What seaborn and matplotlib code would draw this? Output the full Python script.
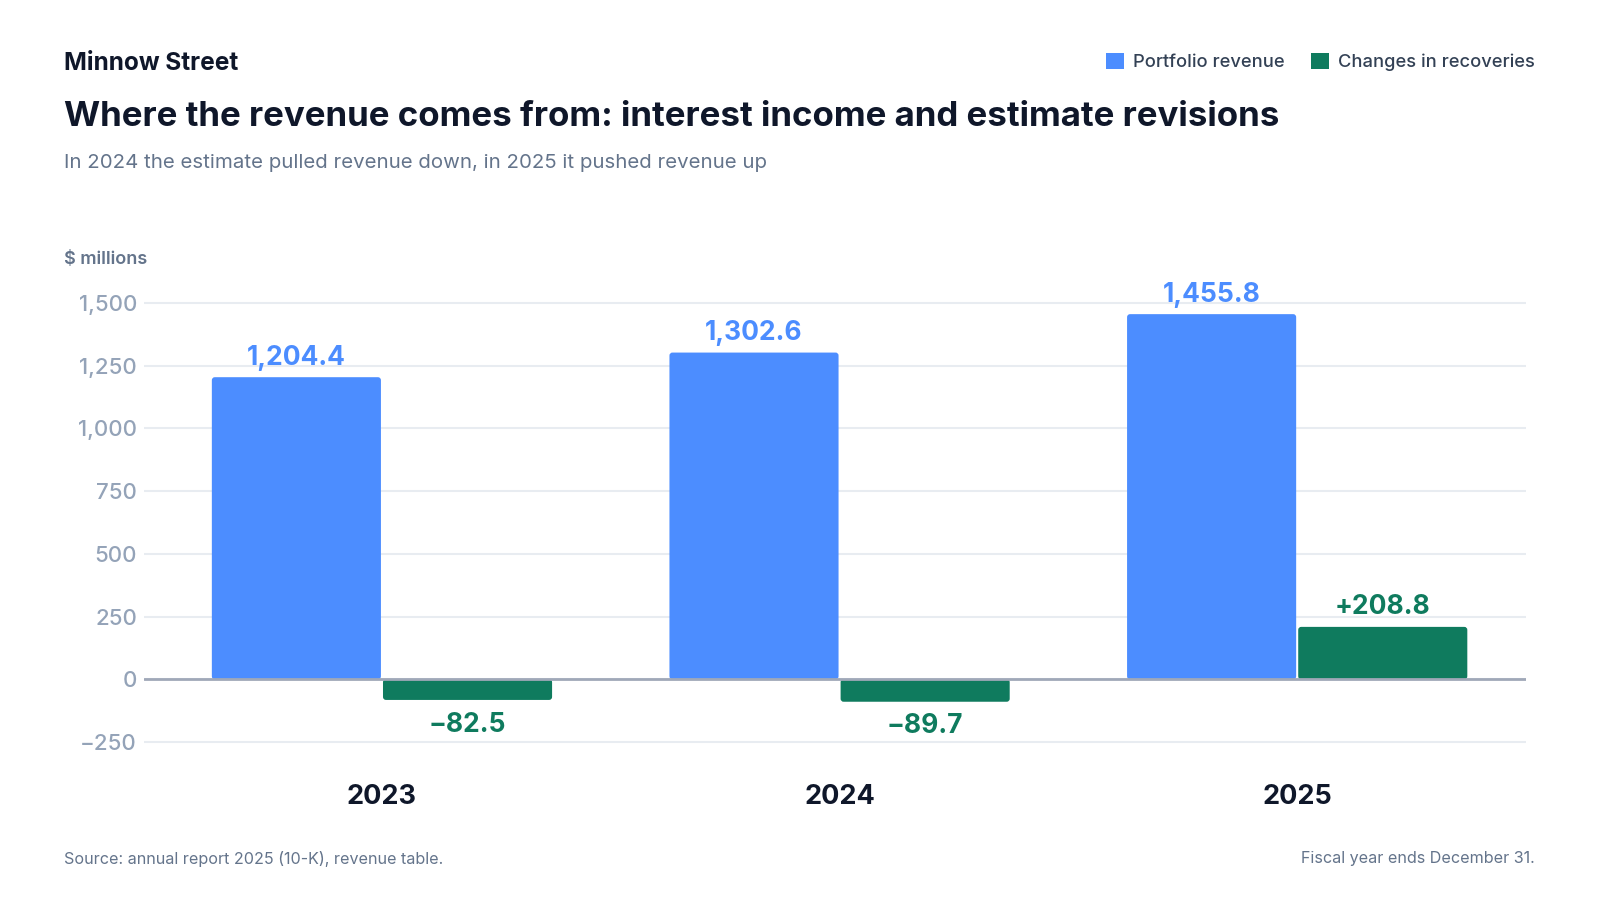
import matplotlib
matplotlib.use("Agg")
import matplotlib.pyplot as plt
import seaborn as sns
import pandas as pd
from matplotlib.patches import Patch, FancyBboxPatch
from matplotlib.ticker import FuncFormatter

years = ["2023", "2024", "2025"]
portfolio_revenue = [1204.4, 1302.6, 1455.8]
changes_in_recoveries = [-82.5, -89.7, 208.8]
series_names = ["Portfolio revenue", "Changes in recoveries"]
y_ticks = [-250, 0, 250, 500, 750, 1000, 1250, 1500]

BLUE = "#4C8DFF"
GREEN = "#0F7B5E"
DARK = "#0F172A"
SLATE = "#64748B"
TICK = "#94A3B8"
GRID = "#E8ECF1"

df = pd.DataFrame({
    "year": years * 2,
    "series": [series_names[0]] * 3 + [series_names[1]] * 3,
    "value": portfolio_revenue + changes_in_recoveries,
})

sns.set_theme(style="white")
plt.rcParams["font.family"] = ["Inter", "DejaVu Sans"]

W, H = 1600, 900
fig = plt.figure(figsize=(16, 9), dpi=100)
ax_bottom, ax_top = 759.5, 283
ax = fig.add_axes([144 / W, 1 - ax_bottom / H, (1526 - 144) / W, (ax_bottom - ax_top) / H])

sns.barplot(data=df, x="year", y="value", hue="series", order=years,
            hue_order=series_names, palette=[BLUE, GREEN], width=0.748,
            gap=0.012, ax=ax, legend=False, saturation=1, linewidth=0, zorder=3)

xlim = (-0.52, 2.5)
ylim = (-320, 1580)
ax.set_xlim(*xlim)
ax.set_ylim(*ylim)
ax.set_yticks(y_ticks)
ax.yaxis.set_major_formatter(FuncFormatter(lambda v, p: f"{int(v):,}".replace("-", "\u2212")))
ax.grid(axis="y", color=GRID, linewidth=1.5, zorder=0)
ax.grid(axis="x", visible=False)
ax.axhline(0, color="#A0A8B8", linewidth=2, zorder=4)
for s in ax.spines.values():
    s.set_visible(False)
ax.tick_params(axis="y", length=0, pad=5, labelsize=16, labelcolor=TICK)
for t in ax.get_yticklabels():
    t.set_fontweight("medium")
ax.tick_params(axis="x", length=0, pad=18, labelsize=19.5, labelcolor=DARK)
for t in ax.get_xticklabels():
    t.set_fontweight("bold")
ax.set_xlabel("")
ax.set_ylabel("")

# rounded bar corners (replace each seaborn bar with a rounded copy of its geometry)
px_per_x = (1526 - 144) / (xlim[1] - xlim[0])
px_per_y = (ax_bottom - ax_top) / (ylim[1] - ylim[0])
radius_px = 3
for container in ax.containers:
    for bar in container:
        x0, y0 = bar.get_x(), bar.get_y()
        w, h = bar.get_width(), bar.get_height()
        rb = FancyBboxPatch((x0, min(y0, y0 + h)), w, abs(h),
                            boxstyle=f"round,pad=0,rounding_size={radius_px / px_per_x}",
                            mutation_aspect=px_per_x / px_per_y,
                            facecolor=bar.get_facecolor(), edgecolor="none", zorder=3)
        bar.set_visible(False)
        ax.add_patch(rb)

# value labels
for container, color, sign in zip(ax.containers, [BLUE, GREEN], [False, True]):
    for bar, v in zip(container, container.datavalues):
        x = bar.get_x() + bar.get_width() / 2
        if sign:
            txt = (f"+{v:,.1f}" if v > 0 else f"\u2212{abs(v):,.1f}")
        else:
            txt = f"{v:,.1f}"
        off = 14 if v >= 0 else -17.8
        ax.annotate(txt, (x, v), xytext=(0, off), textcoords="offset points",
                    ha="center", va="center", fontsize=19, fontweight="bold",
                    color=color, zorder=5)

# texts
LX = 64 / W
fig.text(LX, 1 - 64 / H, "Minnow Street", fontsize=17.6, fontweight="bold",
         color=DARK, va="center", ha="left")
fig.text(LX, 1 - 117 / H,
         "Where the revenue comes from: interest income and estimate revisions",
         fontsize=25.1, fontweight="bold", color=DARK, va="center", ha="left")
fig.text(LX, 1 - 163 / H,
         "In 2024 the estimate pulled revenue down, in 2025 it pushed revenue up",
         fontsize=14.7, color=SLATE, va="center", ha="left")
fig.text(LX, 1 - 259 / H, "$ millions", fontsize=13, fontweight="semibold",
         color=SLATE, va="center", ha="left")
fig.text(LX, 1 - 859 / H, "Source: annual report 2025 (10-K), revenue table.",
         fontsize=11.6, color=SLATE, va="center", ha="left")
fig.text(1535 / W, 1 - 859 / H, "Fiscal year ends December 31.",
         fontsize=11.6, color=SLATE, va="center", ha="right")

handles = [Patch(facecolor=BLUE, edgecolor="none", label=series_names[0]),
           Patch(facecolor=GREEN, edgecolor="none", label=series_names[1])]
leg = fig.legend(handles=handles, loc="center right", bbox_to_anchor=(1535 / W, 1 - 62 / H),
                 ncol=2, frameon=False, fontsize=13.2, handlelength=1.0, handleheight=1.0,
                 handletextpad=0.5, columnspacing=1.4, borderpad=0, borderaxespad=0)
for t in leg.get_texts():
    t.set_color("#334155")
    t.set_fontweight("medium")

fig.savefig("out.png", dpi=100, facecolor="white")
